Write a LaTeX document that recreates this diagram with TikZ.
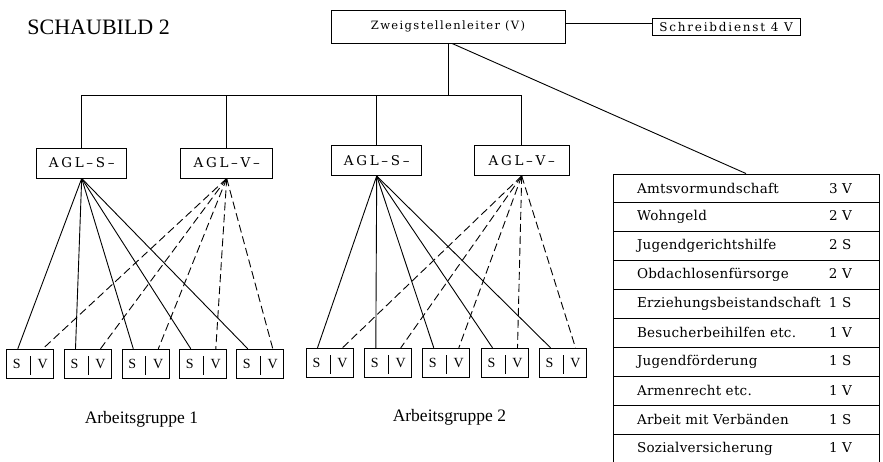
\documentclass[tikz,border=0pt]{standalone}
\usepackage{fontspec}
\setmainfont{Liberation Serif}
\newfontfamily\topfont[LetterSpace=12]{DejaVu Serif}
\newfontfamily\sidefont[LetterSpace=15]{DejaVu Serif}
\newfontfamily\listfont[LetterSpace=2]{DejaVu Serif}
\newfontfamily\aglfont[LetterSpace=20]{DejaVu Serif}
\usetikzlibrary{calc}
\begin{document}
\begin{tikzpicture}[x=1pt,y=-1pt,line width=0.9pt,
  box/.style={draw,rectangle,inner sep=0pt},
  topbox/.style={box,minimum width=234pt,minimum height=33pt,font=\topfont\fontsize{11.5}{14}\selectfont},
  sidebox/.style={box,minimum width=148pt,minimum height=17pt,font=\sidefont\fontsize{12}{14}\selectfont},
  aglbox/.style={box,minimum height=30pt,font=\aglfont\fontsize{13.5}{16}\selectfont},
  svbox/.style={box,minimum width=47pt,minimum height=29.5pt,font=\fontsize{14}{16}\selectfont,
    path picture={\draw[line width=0.8pt] ([yshift=-7pt]path picture bounding box.north) -- ([yshift=4pt]path picture bounding box.south);}},
  listrow/.style={box,minimum height=28.9pt,inner xsep=24pt,text width=218pt,align=left,font=\listfont\fontsize{13.5}{16}\selectfont},
  grouplabel/.style={anchor=base,inner sep=0pt,font=\fontsize{17.5}{20}\selectfont},
  dashline/.style={dash pattern=on 8pt off 4pt}]
\useasboundingbox (0,0) rectangle (883,462);

\node[anchor=base west,inner sep=0pt,font=\fontsize{22}{26}\selectfont] (title) at (27,35) {SCHAUBILD 2};

\node[topbox] (top) at (448,26.5) {Zweigstellenleiter (V)};
\node[sidebox] (schreib) at (726,26.7) {Schreibdienst 4 V};
\draw ([yshift=3pt]schreib.west) -- ([yshift=3pt]schreib.west -| top.east);

\coordinate (bus) at (0,95);
\node[aglbox,minimum width=90pt] (s1) at (81.7,163) {AGL–S–};
\node[aglbox,minimum width=92pt] (v1) at (226.7,163) {AGL–V–};
\node[aglbox,minimum width=90pt] (s2) at (376.7,160.5) {AGL–S–};
\node[aglbox,minimum width=95pt] (v2) at (521.7,160.5) {AGL–V–};

\draw (top.south) -- (top.south |- bus);
\draw (s1.north |- bus) -- (v2.north |- bus);
\foreach \a in {s1,v1,s2,v2} \draw (\a.north) -- (\a.north |- bus);

\foreach \lab/\val [count=\i] in {Amtsvormundschaft/3 V, Wohngeld/2 V, Jugendgerichtshilfe/2 S, Obdachlosenfürsorge/2 V, Erziehungsbeistandschaft/1 S, Besucherbeihilfen etc./1 V, Jugendförderung/1 S, Armenrecht etc./1 V, Arbeit mit Verbänden/1 S, Sozialversicherung/1 V}
  \node[listrow] (r\i) at (746,{174+28.9*(\i-0.5)}) {\makebox[192pt][l]{\lab}\val};

\draw ([xshift=4pt]top.south) -- (r1.north);

\foreach \n/\x/\y in {a1/30.3/364, a2/88/364, a3/145.8/364, a4/203.3/364, a5/260.3/364, b1/330/363, b2/388.3/363, b3/446.3/363, b4/505/363, b5/563/363}
  \node[svbox] (\n) at (\x,\y) {S\hspace{17pt}V};

\foreach \n in {a1,a2,a3,a4,a5} {
  \draw (s1.south) -- ($(\n.north)+(-12.5,0)$);
  \draw[dashline] (v1.south) -- ($(\n.north)+(12.5,0)$);
}
\foreach \n in {b1,b2,b3,b4,b5} {
  \draw (s2.south) -- ($(\n.north)+(-12.5,0)$);
  \draw[dashline] (v2.south) -- ($(\n.north)+(12.5,0)$);
}

\node[grouplabel] (ag1) at (141.4,423.3) {Arbeitsgruppe 1};
\node[grouplabel] (ag2) at (449.4,421.7) {Arbeitsgruppe 2};
\end{tikzpicture}
\end{document}
